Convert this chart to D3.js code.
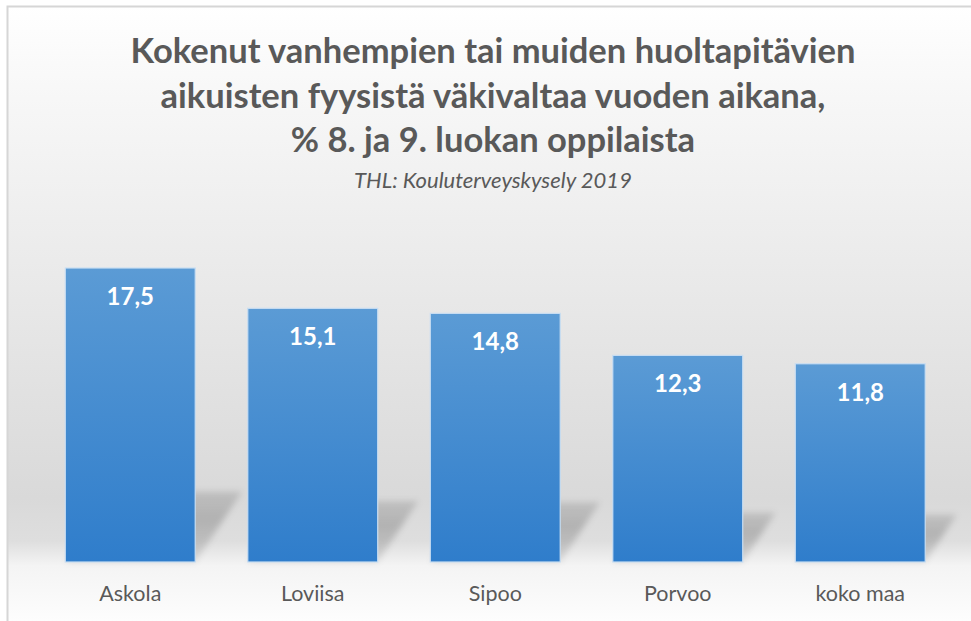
<!DOCTYPE html>
<html lang="fi">
<head>
    <meta charset="UTF-8">
    <title>Kokenut vanhempien tai muiden huoltapitävien aikuisten fyysistä väkivaltaa</title>
    <script src="https://d3js.org/d3.v7.min.js"></script>
    <style>
        body {
            margin: 0;
            background: #fff;
        }

        #chart text {
            font-family: Lato, "Open Sans", sans-serif;
        }
    </style>
</head>
<body>
    <svg id="chart"></svg>

    <script>
        // data
        var categories = ["Askola", "Loviisa", "Sipoo", "Porvoo", "koko maa"];
        var values = [17.5, 15.1, 14.8, 12.3, 11.8];
        var valueLabels = ["17,5", "15,1", "14,8", "12,3", "11,8"];
        var titleLines = [
            "Kokenut vanhempien tai muiden huoltapitävien",
            "aikuisten fyysistä väkivaltaa vuoden aikana,",
            "% 8. ja 9. luokan oppilaista"
        ];
        var subtitle = "THL: Kouluterveyskysely 2019";

        var width = 971,
            height = 621;

        var svg = d3.select("#chart")
            .attr("width", width)
            .attr("height", height);

        var defs = svg.append("defs");

        // background: white at the top, grey floor behind the bars, white again at the bottom
        var bg = defs.append("linearGradient")
            .attr("id", "bgGrad")
            .attr("x1", 0).attr("y1", 0).attr("x2", 0).attr("y2", 1);
        [[0, "#ffffff"], [0.15, "#f7f7f7"], [0.48, "#e8e8e8"], [0.80, "#d9d9d9"],
         [0.87, "#dedede"], [0.91, "#f4f4f4"], [1, "#fdfdfd"]].forEach(function (s) {
            bg.append("stop").attr("offset", s[0]).attr("stop-color", s[1]);
        });

        var barGrad = defs.append("linearGradient")
            .attr("id", "barGrad")
            .attr("x1", 0).attr("y1", 0).attr("x2", 0).attr("y2", 1);
        barGrad.append("stop").attr("offset", 0).attr("stop-color", "#5b9bd5");
        barGrad.append("stop").attr("offset", 1).attr("stop-color", "#2f7dcb");

        var shadowGrad = defs.append("linearGradient")
            .attr("id", "shadowGrad")
            .attr("x1", 0).attr("y1", 1).attr("x2", 0).attr("y2", 0);
        shadowGrad.append("stop").attr("offset", 0).attr("stop-color", "#000").attr("stop-opacity", 0.10);
        shadowGrad.append("stop").attr("offset", 0.6).attr("stop-color", "#000").attr("stop-opacity", 0.19);
        shadowGrad.append("stop").attr("offset", 1).attr("stop-color", "#000").attr("stop-opacity", 0.12);

        defs.append("filter")
            .attr("id", "blur")
            .attr("x", "-30%").attr("y", "-30%").attr("width", "160%").attr("height", "160%")
            .append("feGaussianBlur")
            .attr("stdDeviation", 3);

        // chart area with its grey frame line top and left
        svg.append("rect")
            .attr("x", 7).attr("y", 6)
            .attr("width", width - 7).attr("height", height - 6)
            .attr("fill", "url(#bgGrad)");
        svg.append("path")
            .attr("d", "M7.5," + height + "V6.5H" + width)
            .attr("fill", "none")
            .attr("stroke", "#d6d6d6")
            .attr("stroke-width", 2);

        var x = d3.scaleBand()
            .domain(categories)
            .range([39, 951.5])
            .paddingInner(0.288)
            .paddingOuter(0.144);

        var y = d3.scaleLinear()
            .domain([0, 20])
            .range([562, 226]);

        var data = categories.map(function (c, i) {
            return { name: c, value: values[i], label: valueLabels[i] };
        });

        // perspective shadows falling back to the upper right
        svg.append("g")
            .selectAll("path")
            .data(data)
            .enter()
            .append("path")
            .attr("d", function (d) {
                var x0 = x(d.name), x1 = x0 + x.bandwidth();
                var h = y(0) - y(d.value);
                var dx = h * 0.16, hs = h * 0.24;
                return "M" + x0 + "," + y(0) + "L" + x1 + "," + y(0) +
                    "L" + (x1 + dx) + "," + (y(0) - hs) + "L" + (x0 + dx) + "," + (y(0) - hs) + "Z";
            })
            .attr("fill", "url(#shadowGrad)")
            .attr("filter", "url(#blur)");

        svg.append("g")
            .selectAll("rect")
            .data(data)
            .enter()
            .append("rect")
            .attr("x", function (d) { return x(d.name); })
            .attr("y", function (d) { return y(d.value); })
            .attr("width", x.bandwidth())
            .attr("height", function (d) { return y(0) - y(d.value); })
            .attr("fill", "url(#barGrad)")
            .attr("stroke", "#c9def2")
            .attr("stroke-width", 1.2);

        svg.append("g")
            .selectAll("text")
            .data(data)
            .enter()
            .append("text")
            .attr("x", function (d) { return x(d.name) + x.bandwidth() / 2; })
            .attr("y", function (d) { return y(d.value) + 37; })
            .attr("text-anchor", "middle")
            .attr("fill", "#fff")
            .style("font-size", "24px")
            .style("font-weight", "bold")
            .text(function (d) { return d.label; });

        // category axis, no line or ticks
        var xAxis = svg.append("g")
            .attr("transform", "translate(0," + y(0) + ")")
            .call(d3.axisBottom(x).tickSize(0).tickPadding(24));
        xAxis.select(".domain").remove();
        xAxis.selectAll("text")
            .attr("fill", "#595959")
            .style("font-size", "21.5px");

        svg.append("g")
            .selectAll("text")
            .data(titleLines)
            .enter()
            .append("text")
            .attr("x", 493)
            .attr("y", function (d, i) { return 63 + i * 44.5; })
            .attr("text-anchor", "middle")
            .attr("fill", "#595959")
            .style("font-size", "34.5px")
            .style("font-weight", "bold")
            .text(function (d) { return d; });

        svg.append("text")
            .attr("x", 493)
            .attr("y", 188)
            .attr("text-anchor", "middle")
            .attr("fill", "#595959")
            .style("font-size", "22px")
            .style("font-style", "italic")
            .text(subtitle);
    </script>
</body>
</html>
